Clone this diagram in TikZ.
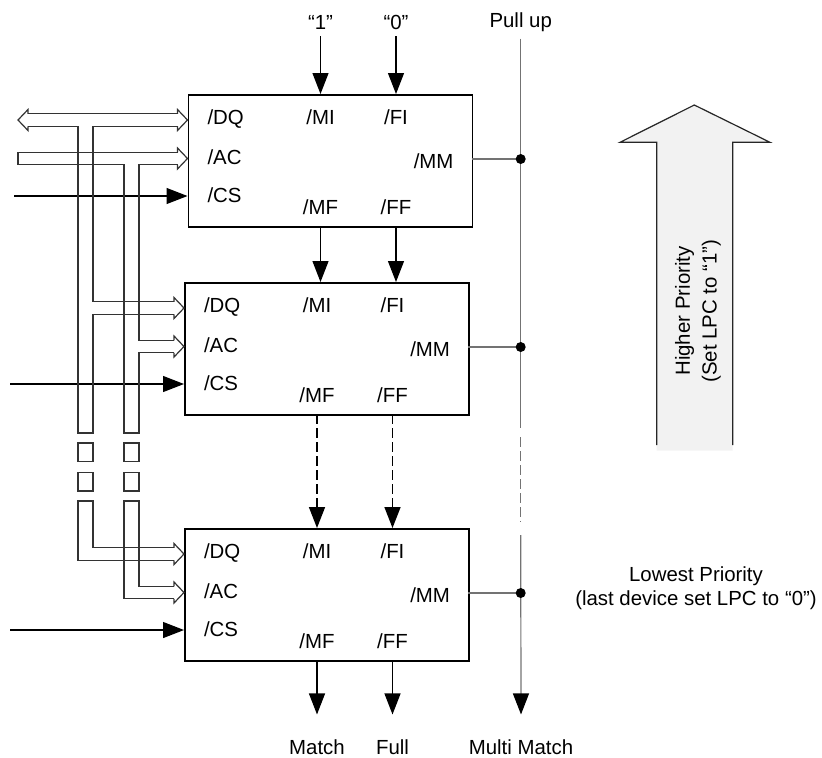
\documentclass[tikz,border=0pt]{standalone}
\usepackage{fontspec}
\setmainfont{Liberation Sans}
\usepackage{tikz}
\usetikzlibrary{calc,arrows.meta}
\tikzset{
	% device box, plain signal wires, wide bus outlines and the pull-up line
	dev node/.style={draw,line width=0.9pt,minimum width=142pt,minimum height=66pt,inner sep=0,anchor=north west},
	sig/.style={-{Triangle[length=10.5pt,width=8pt,black]},line width=0.6pt},
	bus/.style={draw=black!80,line width=0.6pt},
	wire/.style={draw=black!55,line width=0.75pt},
	dot node/.style={circle,fill=black,inner sep=0,minimum size=5pt},
	gap line/.style={dash pattern=on 5pt off 2pt,line width=0.75pt}
}

\begin{document}
\begin{tikzpicture}[x=0.5pt,y=-0.5pt,font=\fontsize{10.2}{13.3}\selectfont]
	\useasboundingbox (0,0) rectangle (822,757);
	% macro for one device: name, left, top
	\newcommand{\device}[3]{
		\node[dev node](#1)at(#2,#3){};
		\coordinate(#1-mi)at({#2+133},#3);
		\coordinate(#1-fi)at({#2+208.5},#3);
		\coordinate(#1-mf)at({#2+133},{#3+132});
		\coordinate(#1-ff)at({#2+208.5},{#3+132});
		\coordinate(#1-dq)at(#2,{#3+26});
		\coordinate(#1-ac)at(#2,{#3+64.5});
		\coordinate(#1-cs)at(#2,{#3+102});
		\coordinate(#1-mm)at({#2+284},{#3+65});
		\node[anchor=west](#1-DQ)at({#2+13},{#3+25}){/DQ};
		\node[anchor=west](#1-AC)at({#2+13},{#3+63}){/AC};
		\node[anchor=west](#1-CS)at({#2+13},{#3+101}){/CS};
		\node(#1-MI)at({#2+133},{#3+23}){/MI};
		\node(#1-FI)at({#2+208.5},{#3+23}){/FI};
		\node(#1-MF)at({#2+133},{#3+113}){/MF};
		\node(#1-FF)at({#2+208.5},{#3+113}){/FF};
		\node[anchor=east](#1-MM)at({#2+273},{#3+67}){/MM};
	}
	% macro for a hollow bus head at a device input
	\newcommand{\hollowhead}[1]{
		\draw[bus] ($(#1)+(-10,-6.25)$) -- ++(0,-4.25) -- (#1) -- ++(-10,10.5) -- ++(0,-4.25);
	}
	
	\node(one)at(320.5,22){“1”};
	\node(zero)at(396,22){“0”};
	\node(pull)at(520.7,22){Pull up};
	\node(match)at(317,747){Match};
	\node(full)at(392.5,747){Full};
	\node(multi)at(521,747){Multi Match};
	
	\device{d1}{187.5}{94}
	\device{d2}{184}{282}
	\device{d3}{184}{528}
	
	% priority chain
	\draw[sig] (one) -- (d1-mi);
	\draw[sig] (zero) -- (d1-fi);
	\draw[sig] (d1-mf) -- (d1-mf |- d2.north);
	\draw[sig] (d1-ff) -- (d1-ff |- d2.north);
	\draw[sig,gap line] (d2-mf) -- (d3-mi);
	\draw[sig,gap line] (d2-ff) -- (d3-fi);
	\draw[sig] (d3-mf) -- ([yshift=9pt]match.north);
	\draw[sig] (d3-ff) -- ([yshift=9pt]full.north);
	
	% pull-up / multi match line
	\coordinate(pu-1)at(520.7,428);
	\coordinate(pu-2)at(520.7,437);
	\coordinate(pu-3)at(520.7,522);
	\coordinate(pu-4)at(520.7,535);
	\draw[wire] (pull) -- (pu-1);
	\draw[wire,gap line] (pu-2) -- (pu-3);
	\draw[wire,sig] (pu-4) -- ([yshift=9pt]multi.north);
	\foreach \d in {d1,d2,d3}
		\draw[wire] (\d-mm) -- (\d-mm -| pull) node[dot node](\d-j){};
	
	% chip select inputs
	\coordinate(in1)at(14,196);
	\coordinate(in2)at(10,384);
	\coordinate(in3)at(10,630);
	\draw[sig] (in1) -- (d1-cs);
	\draw[sig] (in2) -- (d2-cs);
	\draw[sig] (in3) -- (d3-cs);
	
	% DQ bus with its trunk
	\draw[bus] (28,113.75) -- ($(d1-dq)+(-10,-6.25)$);
	\draw[bus] (28,113.75) -- ++(0,-4.25) -- (18,120) -- (28,130.5) -- ++(0,-4.25);
	\draw[bus] ($(d2-dq)+(-10,-6.25)$) -| (93,126.25) -- ($(d1-dq)+(-10,6.25)$);
	\draw[bus] ($(d2-dq)+(-10,6.25)$) -| (93,433) -| (78,126.25) -- (28,126.25);
	\draw[bus] ($(d3-dq)+(-10,-6.25)$) -| (93,501) -- (78,501) |- ($(d3-dq)+(-10,6.25)$);
	
	% AC bus with its trunk
	\draw[bus] ($(d2-ac)+(-10,-6.25)$) -| (139,164.75) -- ($(d1-ac)+(-10,6.25)$);
	\draw[bus] ($(d2-ac)+(-10,6.25)$) -| (139,433) -| (124,164.75) -- (18,164.75) -- (18,152.25) -- ($(d1-ac)+(-10,-6.25)$);
	\draw[bus] ($(d3-ac)+(-10,-6.25)$) -| (139,501) -- (124,501) |- ($(d3-ac)+(-10,6.25)$);
	
	\foreach \p in {d1-dq,d1-ac,d2-dq,d2-ac,d3-dq,d3-ac}
		{\hollowhead{\p}}
	
	% break marks on the trunks
	\foreach \x in {78,124}
		\foreach \y in {443,472.5}
			\draw[bus] (\x,\y) rectangle ++(15,18.5);
	
	% priority arrow
	\fill[black!5] (656.7,450.5) -- (656.7,142.3) -- (620,142.3) -- (694.3,105) -- (770,142.3) -- (732.7,142.3) -- (732.7,450.5) -- cycle;
	\draw[black!85,line width=0.6pt] (656.7,445) -- (656.7,142.3) -- (620,142.3) -- (694.3,105) -- (770,142.3) -- (732.7,142.3) -- (732.7,445);
	\node[rotate=90,align=center](prio-up)at(698,311){Higher Priority\\(Set LPC to “1”)};
	\node[align=center,font=\fontsize{10.2}{11.7}\selectfont](prio-low)at(696,588){Lowest Priority\\(last device set LPC to “0”)};
\end{tikzpicture}
\end{document}
